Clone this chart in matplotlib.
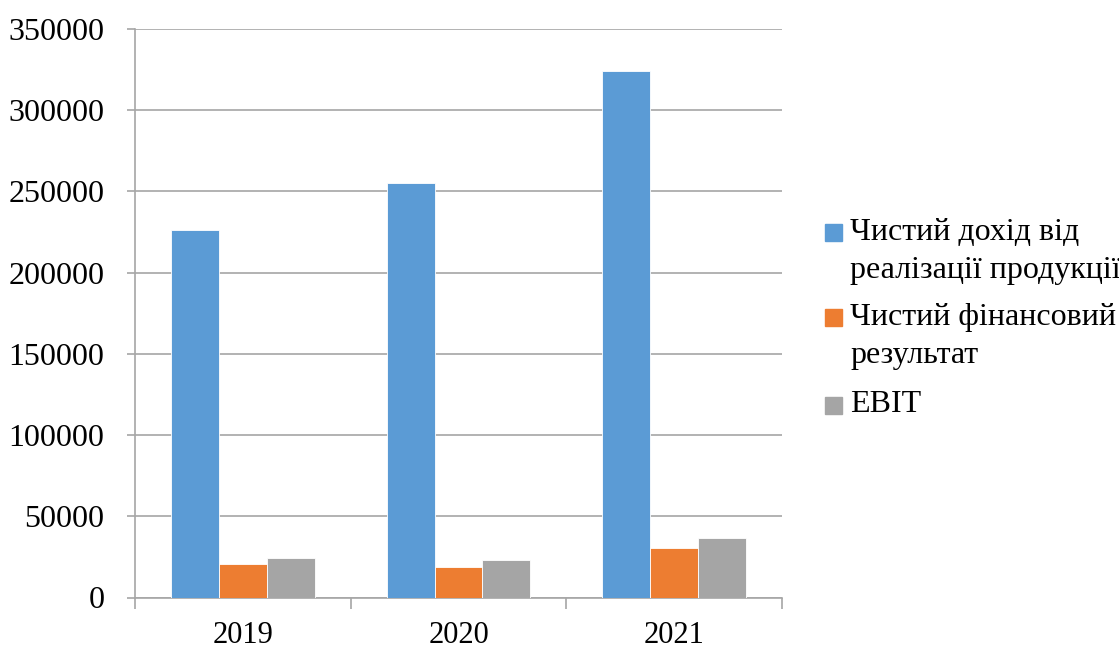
import matplotlib.pyplot as plt
import matplotlib.patches as mpatches
import numpy as np

# Дані з діаграми
roky = ['2019', '2020', '2021']
dokhid = [226000, 255000, 324000]
fin_rezultat = [20500, 18500, 30300]
ebit = [24400, 22800, 36900]

serii = [
    ("Чистий дохід від\nреалізації продукції", dokhid, '#5B9BD5'),
    ("Чистий фінансовий\nрезультат", fin_rezultat, '#ED7D31'),
    ("EBIT", ebit, '#A5A5A5'),
]

plt.rcParams['font.family'] = ['Liberation Serif', 'DejaVu Serif']

fig = plt.figure(figsize=(11.19, 6.48), dpi=100)
ax = fig.add_axes([135 / 1119, 1 - 597.5 / 648, 647 / 1119, 568.5 / 648])

x = np.arange(len(roky))
shyryna = 1 / 4.5
for i, (nazva, znach, kolir) in enumerate(serii):
    ax.bar(x + (i - 1) * shyryna, znach, width=shyryna, color=kolir,
           edgecolor='white', linewidth=0.6, zorder=3)

ax.set_xlim(-0.5, 2.5)
ax.set_ylim(0, 350000)
ax.set_yticks(range(0, 350001, 50000))
ax.yaxis.grid(True, color='#a6a6a6', linewidth=1.2, zorder=0)

# осі
for s in ['top', 'right']:
    ax.spines[s].set_visible(False)
ax.spines['left'].set_color('#a6a6a6')
ax.spines['bottom'].set_color('#a6a6a6')
ax.spines['left'].set_linewidth(1.2)
ax.spines['bottom'].set_linewidth(1.2)

ax.set_xticks(x)
ax.set_xticklabels(roky)
ax.set_xticks([-0.5, 0.5, 1.5, 2.5], minor=True)
ax.tick_params(axis='x', which='major', length=0, labelsize=22, pad=17)
ax.tick_params(axis='x', which='minor', length=8, color='#a6a6a6', width=1.2)
ax.tick_params(axis='y', length=6, color='#a6a6a6', width=1.2, labelsize=23, pad=16)

# Легенда
poz = [(232, 270), (317, 355), (405,)]
for (nazva, znach, kolir), rjadky in zip(serii, poz):
    y0 = rjadky[0]
    fig.patches.append(mpatches.Rectangle((825 / 1119, 1 - (y0 + 9) / 648), 17 / 1119, 17 / 648,
                                          transform=fig.transFigure, color=kolir))
    for ryadok, yy in zip(nazva.split('\n'), rjadky):
        fig.text(850 / 1119, 1 - yy / 648, ryadok, fontsize=23, va='center', ha='left')

fig.savefig('out.png', dpi=100)
